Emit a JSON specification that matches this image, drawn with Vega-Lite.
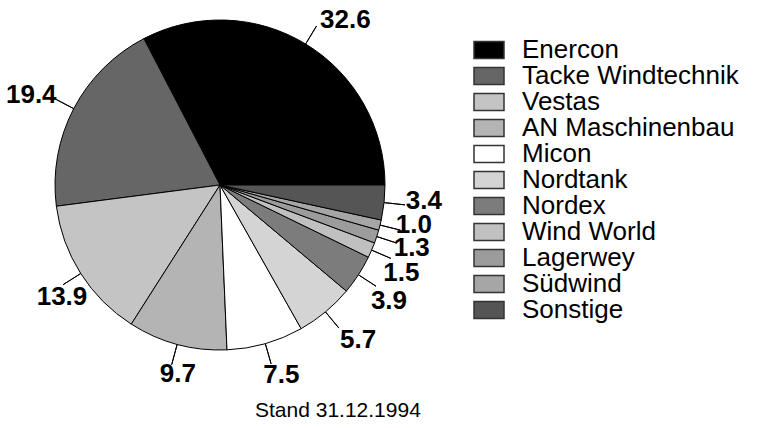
{
  "$schema": "https://vega.github.io/schema/vega-lite/v6.json",
  "width": 440,
  "height": 370,
  "padding": {"left": 0, "top": 0, "right": 317, "bottom": 58},
  "autosize": {"type": "none"},
  "background": "white",
  "data": {
    "values": [
      {"idx": 1, "name": "Enercon", "share": 32.6},
      {"idx": 2, "name": "Tacke  Windtechnik", "share": 19.4},
      {"idx": 3, "name": "Vestas", "share": 13.9},
      {"idx": 4, "name": "AN  Maschinenbau", "share": 9.7},
      {"idx": 5, "name": "Micon", "share": 7.5},
      {"idx": 6, "name": "Nordtank", "share": 5.7},
      {"idx": 7, "name": "Nordex", "share": 3.9},
      {"idx": 8, "name": "Wind  World", "share": 1.5},
      {"idx": 9, "name": "Lagerwey", "share": 1.3},
      {"idx": 10, "name": "Südwind", "share": 1.0},
      {"idx": 11, "name": "Sonstige", "share": 3.4}
    ]
  },
  "title": {
    "text": "Stand  31.12.1994",
    "orient": "bottom",
    "anchor": "start",
    "dx": 255,
    "offset": -6,
    "font": "Liberation Sans",
    "fontSize": 21,
    "fontWeight": "normal",
    "color": "black"
  },
  "encoding": {
    "theta": {"field": "share", "type": "quantitative", "stack": true, "scale": {"range": [1.5708, 7.854]}},
    "order": {"field": "idx", "type": "quantitative", "sort": "descending"}
  },
  "layer": [
    {
      "mark": {"type": "arc", "radius": 165, "stroke": "black", "strokeWidth": 1},
      "encoding": {
        "color": {
          "field": "name",
          "type": "nominal",
          "sort": null,
          "scale": {
            "domain": ["Enercon", "Tacke  Windtechnik", "Vestas", "AN  Maschinenbau", "Micon", "Nordtank", "Nordex", "Wind  World", "Lagerwey", "Südwind", "Sonstige"],
            "range": ["#000000", "#666666", "#c4c4c4", "#b4b4b4", "#ffffff", "#d4d4d4", "#7c7c7c", "#c0c0c0", "#9c9c9c", "#a6a6a6", "#555555"]
          },
          "legend": {
            "title": null,
            "orient": "none",
            "legendX": 476,
            "legendY": 37,
            "padding": 0,
            "rowPadding": 0,
            "symbolType": "M-1.5,-0.85H1.5V0.85H-1.5Z",
            "symbolSize": 400,
            "symbolStrokeColor": "#333333",
            "symbolStrokeWidth": 1.5,
            "symbolOpacity": 1,
            "labelOffset": 20,
            "labelFont": "Liberation Sans",
            "labelFontSize": 26,
            "labelColor": "black",
            "labelLimit": 400
          }
        }
      }
    },
    {
      "mark": {"type": "arc", "radius": 186, "radius2": 165, "padAngle": 3.14, "filled": false, "color": "black", "strokeWidth": 1},
      "encoding": {"detail": {"field": "name"}}
    },
    {
      "mark": {"type": "text", "radius": 205, "dx": 19, "dy": 10, "font": "Liberation Sans", "fontSize": 26, "fontWeight": "bold", "color": "black"},
      "encoding": {
        "detail": {"field": "name"},
        "text": {"condition": {"test": "datum.idx == 1", "field": "share", "type": "quantitative", "format": ".1f"}, "value": ""}
      }
    },
    {
      "mark": {"type": "text", "radius": 205, "dx": -7, "dy": 5, "font": "Liberation Sans", "fontSize": 26, "fontWeight": "bold", "color": "black"},
      "encoding": {
        "detail": {"field": "name"},
        "text": {"condition": {"test": "datum.idx == 2", "field": "share", "type": "quantitative", "format": ".1f"}, "value": ""}
      }
    },
    {
      "mark": {"type": "text", "radius": 205, "dx": 15, "dy": 2, "font": "Liberation Sans", "fontSize": 26, "fontWeight": "bold", "color": "black"},
      "encoding": {
        "detail": {"field": "name"},
        "text": {"condition": {"test": "datum.idx == 3", "field": "share", "type": "quantitative", "format": ".1f"}, "value": ""}
      }
    },
    {
      "mark": {"type": "text", "radius": 205, "dx": 11, "dy": -9, "font": "Liberation Sans", "fontSize": 26, "fontWeight": "bold", "color": "black"},
      "encoding": {
        "detail": {"field": "name"},
        "text": {"condition": {"test": "datum.idx == 4", "field": "share", "type": "quantitative", "format": ".1f"}, "value": ""}
      }
    },
    {
      "mark": {"type": "text", "radius": 205, "dx": 5, "dy": -7, "font": "Liberation Sans", "fontSize": 26, "fontWeight": "bold", "color": "black"},
      "encoding": {
        "detail": {"field": "name"},
        "text": {"condition": {"test": "datum.idx == 5", "field": "share", "type": "quantitative", "format": ".1f"}, "value": ""}
      }
    },
    {
      "mark": {"type": "text", "radius": 205, "dx": 7, "dy": -3, "font": "Liberation Sans", "fontSize": 26, "fontWeight": "bold", "color": "black"},
      "encoding": {
        "detail": {"field": "name"},
        "text": {"condition": {"test": "datum.idx == 6", "field": "share", "type": "quantitative", "format": ".1f"}, "value": ""}
      }
    },
    {
      "mark": {"type": "text", "radius": 205, "dx": -3, "dy": 4, "font": "Liberation Sans", "fontSize": 26, "fontWeight": "bold", "color": "black"},
      "encoding": {
        "detail": {"field": "name"},
        "text": {"condition": {"test": "datum.idx == 7", "field": "share", "type": "quantitative", "format": ".1f"}, "value": ""}
      }
    },
    {
      "mark": {"type": "text", "radius": 205, "dx": -7, "dy": 7, "font": "Liberation Sans", "fontSize": 26, "fontWeight": "bold", "color": "black"},
      "encoding": {
        "detail": {"field": "name"},
        "text": {"condition": {"test": "datum.idx == 8", "field": "share", "type": "quantitative", "format": ".1f"}, "value": ""}
      }
    },
    {
      "mark": {"type": "text", "radius": 205, "dx": -3, "dy": -1, "font": "Liberation Sans", "fontSize": 26, "fontWeight": "bold", "color": "black"},
      "encoding": {
        "detail": {"field": "name"},
        "text": {"condition": {"test": "datum.idx == 9", "field": "share", "type": "quantitative", "format": ".1f"}, "value": ""}
      }
    },
    {
      "mark": {"type": "text", "radius": 205, "dx": -5, "dy": -10, "font": "Liberation Sans", "fontSize": 26, "fontWeight": "bold", "color": "black"},
      "encoding": {
        "detail": {"field": "name"},
        "text": {"condition": {"test": "datum.idx == 10", "field": "share", "type": "quantitative", "format": ".1f"}, "value": ""}
      }
    },
    {
      "mark": {"type": "text", "radius": 205, "dx": 0, "dy": -6, "font": "Liberation Sans", "fontSize": 26, "fontWeight": "bold", "color": "black"},
      "encoding": {
        "detail": {"field": "name"},
        "text": {"condition": {"test": "datum.idx == 11", "field": "share", "type": "quantitative", "format": ".1f"}, "value": ""}
      }
    }
  ],
  "config": {"view": {"stroke": null}}
}
